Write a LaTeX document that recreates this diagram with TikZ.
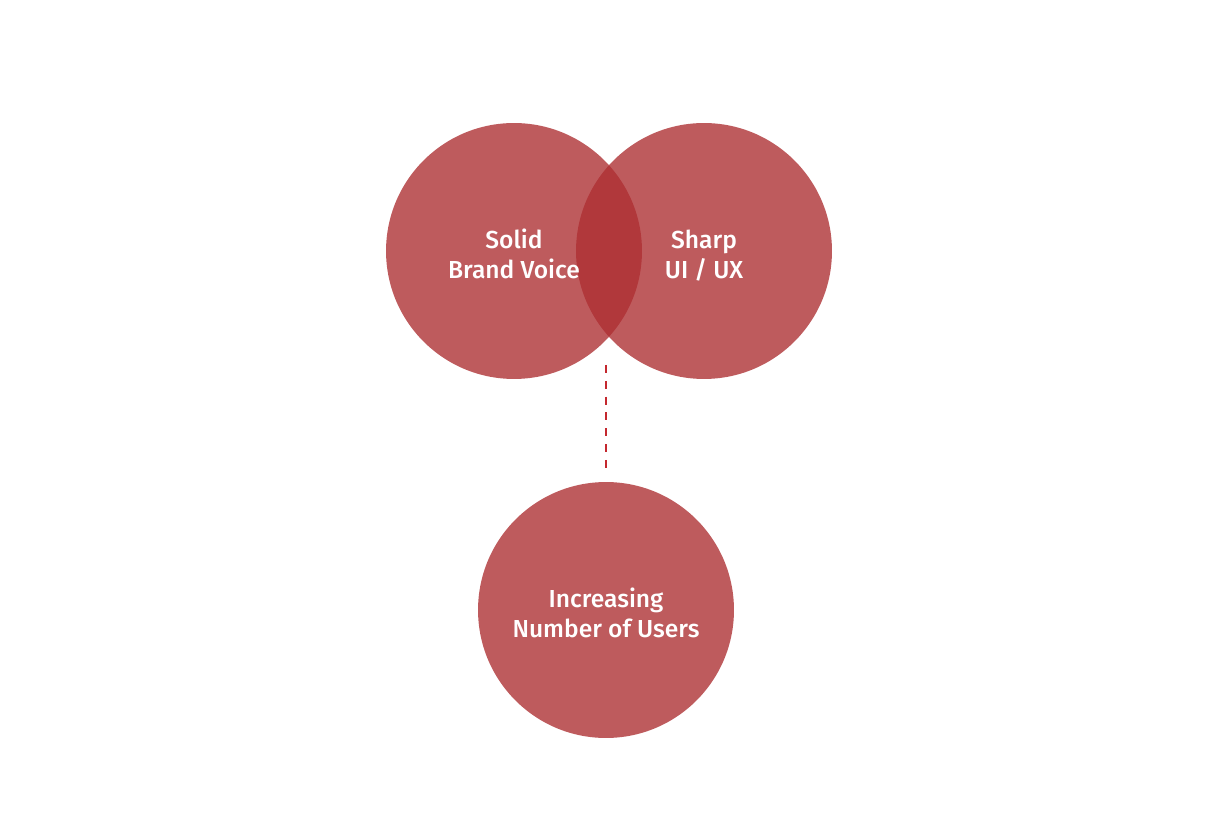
\documentclass[tikz,border=0pt]{standalone}
\usepackage{fontspec}
\setmainfont{Fira Sans}[UprightFont={* Medium}]
\usepackage{tikz}
\usetikzlibrary{positioning}

\definecolor{brandred}{RGB}{173,47,50}
\definecolor{linkred}{RGB}{196,40,46}

\begin{document}
\begin{tikzpicture}[x=0.02cm, y=-0.02cm]

% 画布
\useasboundingbox (0,0) rectangle (1214,834);

\tikzset{
    bubble/.style={circle, fill=brandred, fill opacity=0.79,
        minimum size=5.12cm, inner sep=0pt},
    label/.style={text=white, align=center, font=\fontsize{14}{17}\selectfont},
    link/.style={draw=linkred, line width=0.8pt, dash pattern=on 4.5pt off 4.5pt}
}

% 上面两个圆
\node[bubble] (voice) at (514,251) {};
\node[bubble] (uxui) at (704,251) {};

% 下面的圆
\node[bubble] (users) at (606,610) {};

% 文字
\node[label] (voicetxt) at (514,254) {Solid\\Brand Voice};
\node[label] (uxuitxt) at (704,256) {Sharp\\UI / UX};
\node[label] (userstxt) at (606,613) {Increasing\\Number of Users};

% 虚线
\coordinate (meet) at (606,365);
\draw[link] (meet) -- ([yshift=0.24cm]users.north);

\end{tikzpicture}
\end{document}
